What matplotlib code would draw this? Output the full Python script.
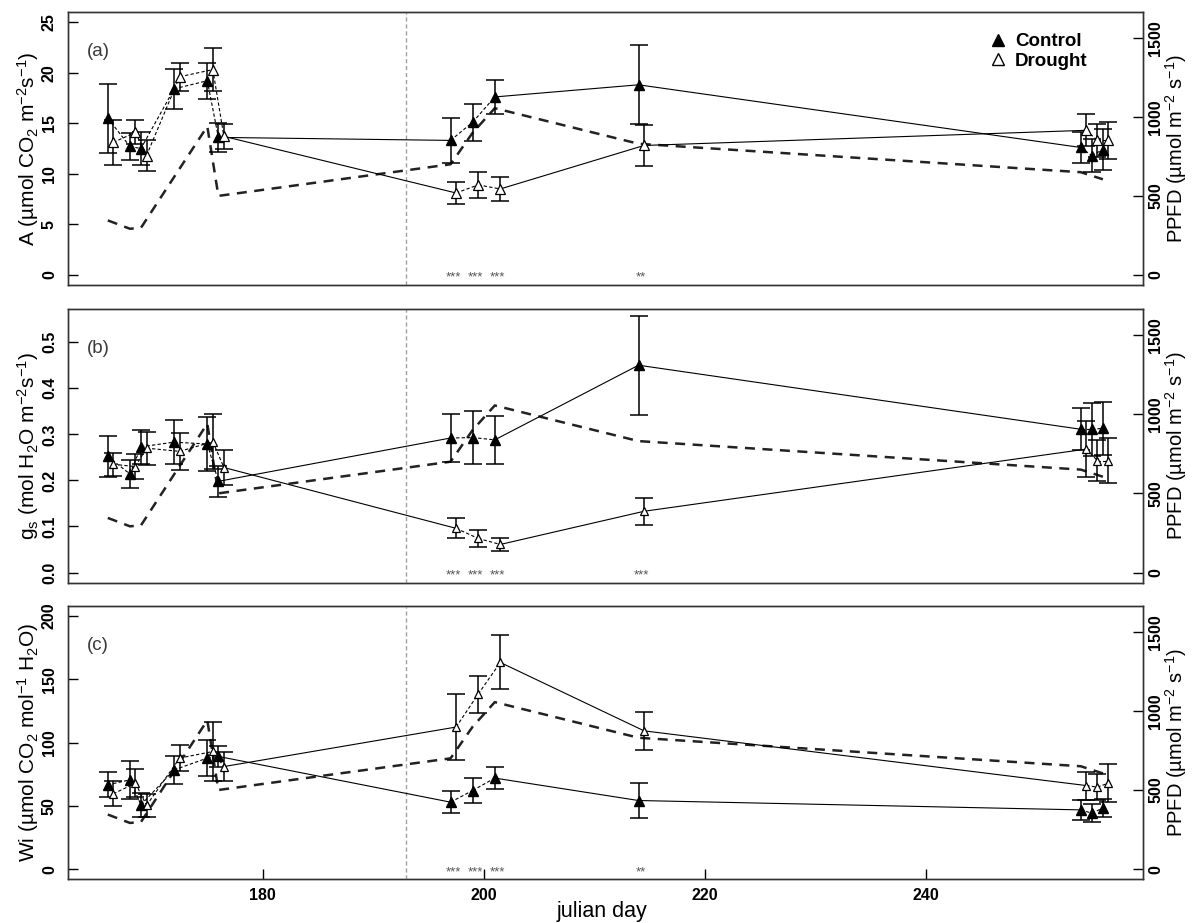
import matplotlib
matplotlib.use("Agg")
import matplotlib.pyplot as plt
from matplotlib.lines import Line2D
import numpy as np

plt.rcParams["font.family"] = ["Liberation Sans", "DejaVu Sans"]
plt.rcParams["mathtext.fontset"] = "custom"
plt.rcParams["mathtext.rm"] = "Liberation Sans"
plt.rcParams["mathtext.it"] = "Liberation Sans:italic"
plt.rcParams["mathtext.bf"] = "Liberation Sans:bold"

# measurement days (julian); drought points are drawn half a day to the right
days = [166, 168, 169, 172, 175, 176, 197, 199, 201, 214, 254, 255, 256]

# (a) net assimilation
A_ctrl = [15.5, 12.7, 12.5, 18.4, 19.2, 13.6, 13.3, 15.1, 17.6, 18.8, 12.6, 11.8, 12.4]
A_ctrl_se = [3.4, 1.35, 1.6, 2.0, 1.8, 1.4, 2.2, 1.85, 1.7, 3.9, 1.5, 1.6, 2.0]
A_drt = [13.1, 14.1, 11.8, 19.6, 20.3, 13.7, 8.1, 8.9, 8.5, 12.8, 14.3, 13.3, 13.3]
A_drt_se = [2.2, 1.2, 1.5, 1.4, 2.1, 1.2, 1.1, 1.3, 1.15, 2.05, 1.6, 1.6, 1.85]

# (b) stomatal conductance
gs_ctrl = [0.252, 0.214, 0.273, 0.283, 0.279, 0.198, 0.292, 0.293, 0.288, 0.450, 0.311, 0.311, 0.313]
gs_ctrl_se = [0.044, 0.030, 0.037, 0.048, 0.058, 0.034, 0.052, 0.057, 0.052, 0.107, 0.046, 0.057, 0.057]
gs_drt = [0.235, 0.230, 0.270, 0.263, 0.284, 0.228, 0.096, 0.074, 0.061, 0.133, 0.268, 0.243, 0.243]
gs_drt_se = [0.025, 0.027, 0.036, 0.040, 0.060, 0.038, 0.022, 0.018, 0.014, 0.029, 0.060, 0.045, 0.048]

# (c) intrinsic water use efficiency
wi_ctrl = [66.6, 70.5, 50.8, 78.4, 87.7, 89.0, 52.9, 62.1, 71.9, 54.2, 46.8, 44.2, 48.2]
wi_ctrl_se = [10, 15, 9.5, 11, 14, 8, 8.8, 9.8, 8.7, 13.7, 8, 7, 7]
wi_drt = [59.5, 67.9, 50.3, 87.7, 92.9, 81.0, 112.2, 138.2, 163.2, 109.2, 66.0, 64.8, 67.9]
wi_drt_se = [9.8, 10.8, 9, 10, 23, 11.7, 25.7, 14.6, 21.3, 15.2, 11, 10, 15]

# light during measurements
ppfd_days = [166, 168, 169, 172, 175, 176, 197, 199, 201, 214, 254, 256]
ppfd = [345, 292, 298, 620, 940, 500, 700, 900, 1055, 830, 650, 605]

# significance of treatment difference
sig_days = [197, 199, 201, 214]
sig_a = ["***", "***", "***", "**"]
sig_b = ["***", "***", "***", "***"]
sig_c = ["***", "***", "***", "**"]

drought_start = 193

panels = [
    dict(tag="(a)", ctrl=A_ctrl, ctrl_se=A_ctrl_se, drt=A_drt, drt_se=A_drt_se,
         sig=sig_a, ylim=(-1, 26), yticks=[0, 5, 10, 15, 20, 25],
         yfmt="{:g}", ms_d=7.5,
         ylabel="A (µmol CO$_2$ m$^{-2}$s$^{-1}$)"),
    dict(tag="(b)", ctrl=gs_ctrl, ctrl_se=gs_ctrl_se, drt=gs_drt, drt_se=gs_drt_se,
         sig=sig_b, ylim=(-0.022, 0.572), yticks=[0, 0.1, 0.2, 0.3, 0.4, 0.5],
         yfmt="{:.1f}", ms_d=6,
         ylabel="g$_\\mathrm{s}$ (mol H$_2$O m$^{-2}$s$^{-1}$)"),
    dict(tag="(c)", ctrl=wi_ctrl, ctrl_se=wi_ctrl_se, drt=wi_drt, drt_se=wi_drt_se,
         sig=sig_c, ylim=(-8, 208), yticks=[0, 50, 100, 150, 200],
         yfmt="{:g}", ms_d=6,
         ylabel="Wi (µmol CO$_2$ mol$^{-1}$ H$_2$O)"),
]

W, H = 1192, 923
fig = plt.figure(figsize=(W / 100, H / 100), dpi=100)

box_px = [(12, 285), (309, 582.7), (605.7, 879.3)]
x0, x1 = 68, 1142.7
tickfont = dict(size=11.5, weight="bold")
edge = "#333333"


def connect(ax, x, y):
    # within a measurement campaign: short dashes; between campaigns: solid
    for i in range(len(x) - 1):
        ls = (0, (3, 2)) if x[i + 1] - x[i] < 5 else "-"
        ax.plot(x[i:i + 2], y[i:i + 2], color="black", lw=0.8, ls=ls, zorder=2)


for k, p in enumerate(panels):
    top, bot = box_px[k]
    ax = fig.add_axes([x0 / W, 1 - bot / H, (x1 - x0) / W, (bot - top) / H])
    ax2 = ax.twinx()
    ax.set_zorder(ax2.get_zorder() + 1)
    ax.patch.set_visible(False)

    xc = np.array(days, dtype=float)
    xd = xc + 0.5

    ax.axvline(drought_start, color="#a0a0a0", lw=1.0, ls=(0, (3, 2)), zorder=1)

    connect(ax, xc, p["ctrl"])
    connect(ax, xd, p["drt"])
    ax.errorbar(xc, p["ctrl"], yerr=p["ctrl_se"], fmt="none", ecolor="black",
                elinewidth=1.1, capsize=6.3, capthick=1.1, zorder=3)
    ax.errorbar(xd, p["drt"], yerr=p["drt_se"], fmt="none", ecolor="black",
                elinewidth=1.1, capsize=6.3, capthick=1.1, zorder=3)
    ax.plot(xc, p["ctrl"], "^", ms=7.5, mfc="black", mec="black", zorder=4)
    ax.plot(xd, p["drt"], "^", ms=p["ms_d"], mfc="white", mec="black", mew=0.9, zorder=4)

    for d, s in zip(sig_days, p["sig"]):
        ax.text(d + 0.25, p["ylim"][0] * 0.3, s, ha="center", va="center",
                fontsize=9.5, color="#555555")

    ax2.plot(ppfd_days, ppfd, color="#222222", lw=1.8, ls=(0, (4, 3)))
    ax2.set_ylim(-64, 1664)
    ax2.set_yticks([0, 500, 1000, 1500])
    ax2.set_yticklabels(["0", "500", "1000", "1500"], fontdict=tickfont,
                        rotation=90, va="center")
    ax2.tick_params(axis="y", direction="in", length=7, width=1, pad=4, colors="black")
    ax2.set_ylabel("PPFD (µmol m$^{-2}$ s$^{-1}$)", fontsize=14.5)
    ax2.yaxis.set_label_coords((1176 - x0) / (x1 - x0), 0.5)
    ax2.yaxis.label.set_va("center")

    ax.set_xlim(162.4, 259.6)
    ax.set_ylim(*p["ylim"])
    ax.set_yticks(p["yticks"])
    ax.set_yticklabels([p["yfmt"].format(v) for v in p["yticks"]], fontdict=tickfont,
                       rotation=90, va="center")
    ax.tick_params(axis="y", direction="in", length=7, width=1, pad=8)
    ax.set_ylabel(p["ylabel"], fontsize=15)
    ax.yaxis.set_label_coords((28 - x0) / (x1 - x0), 0.5)
    ax.yaxis.label.set_va("center")

    if k == 2:
        ax.set_xticks([180, 200, 220, 240])
        ax.set_xticklabels(["180", "200", "220", "240"], fontdict=tickfont)
        ax.tick_params(axis="x", direction="in", length=7, width=1, pad=6.5)
        ax.set_xlabel("julian day", fontsize=15.5)
        ax.xaxis.set_label_coords((602 - x0) / (x1 - x0), -(911 - bot) / (bot - top))
        ax.xaxis.label.set_va("center")
    else:
        ax.tick_params(axis="x", bottom=False, labelbottom=False)

    ax.text(18.7 / (x1 - x0), 1 - 39.5 / (bot - top), p["tag"], transform=ax.transAxes,
            fontsize=13.5, color="#3a3a3a", ha="left", va="center")

    for a in (ax, ax2):
        for sp in a.spines.values():
            sp.set_color(edge)
            sp.set_linewidth(1.0)

    if k == 0:
        handles = [Line2D([], [], ls="none", marker="^", ms=8, mfc="black", mec="black"),
                   Line2D([], [], ls="none", marker="^", ms=8, mfc="white", mec="black")]
        ax.legend(handles, ["Control", "Drought"], loc="upper left",
                  bbox_to_anchor=((988.7 - x0) / (x1 - x0), 1 - (33 - top) / (bot - top)),
                  frameon=False, prop=dict(size=13.5, weight="bold"), handlelength=1.0,
                  handletextpad=0.4, labelspacing=0.12, borderpad=0, borderaxespad=0)

fig.savefig("out.png", dpi=100)
